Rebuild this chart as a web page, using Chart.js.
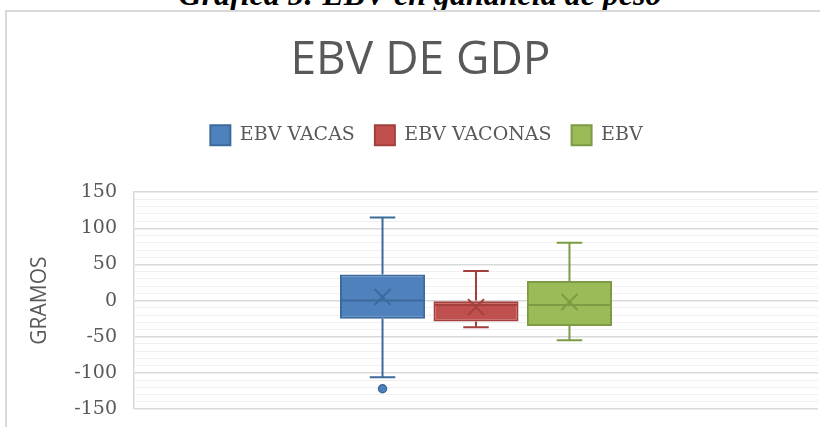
<!DOCTYPE html>
<html>
<head>
<meta charset="utf-8">
<script src="https://cdn.jsdelivr.net/npm/chart.js@4.4.1/dist/chart.umd.min.js"></script>
<style>
  html, body { margin: 0; padding: 0; background: #fff; overflow: hidden; }
  #caption {
    position: absolute; left: 10px; top: -22px; width: 820px;
    text-align: center; font: italic bold 32px/32px "Liberation Serif", serif; color: #000;
    white-space: nowrap;
  }
  #frame {
    position: absolute; left: 5px; top: 10px; width: 900px; height: 500px;
    border: 2px solid #d9d9d9; box-sizing: border-box;
  }
  #grafico { position: absolute; left: 0; top: 0; }
</style>
</head>
<body>
<div id="caption">Gráfica 5: EBV en ganancia de peso</div>
<div id="frame"></div>
<canvas id="grafico" width="820" height="427"></canvas>
<script>
// ============================
// DADOS
// ============================
const categorias = [''];
const series = ['EBV VACAS', 'EBV VACONAS', 'EBV'];
const minimos = [-106, -37, -55];
const q1 = [-25, -29, -35];
const medianas = [0, -6, -6];
const q3 = [36, 0, 27];
const maximos = [115, 41, 80];
const medias = [5, -9, -2];
const atipicos = [[-122], [], []];
const ticksY = [-150, -100, -50, 0, 50, 100, 150];

// cores
const preenchimento = ['#4F81BD', '#C0504D', '#9BBB59'];
const contorno = ['#3D6A9C', '#A33F3C', '#7D9A44'];

// ============================
// PLUGIN: bigodes, mediana, média e pontos atípicos
// ============================
const caixaExtras = {
  id: 'caixaExtras',
  afterDatasetsDraw(chart) {
    const ctx = chart.ctx;
    const y = chart.scales.y;
    chart.data.datasets.forEach((ds, i) => {
      const bar = chart.getDatasetMeta(i).data[0];
      if (!bar) return;
      const x = bar.x, w = bar.width;
      const cap = w * 0.15;
      ctx.save();
      ctx.strokeStyle = contorno[i];
      ctx.lineWidth = 2;
      ctx.beginPath();
      // bigode superior
      ctx.moveTo(x, y.getPixelForValue(q3[i]));
      ctx.lineTo(x, y.getPixelForValue(maximos[i]));
      ctx.moveTo(x - cap, y.getPixelForValue(maximos[i]));
      ctx.lineTo(x + cap, y.getPixelForValue(maximos[i]));
      // bigode inferior
      ctx.moveTo(x, y.getPixelForValue(q1[i]));
      ctx.lineTo(x, y.getPixelForValue(minimos[i]));
      ctx.moveTo(x - cap, y.getPixelForValue(minimos[i]));
      ctx.lineTo(x + cap, y.getPixelForValue(minimos[i]));
      // mediana
      ctx.moveTo(x - w / 2 + 1, y.getPixelForValue(medianas[i]));
      ctx.lineTo(x + w / 2 - 1, y.getPixelForValue(medianas[i]));
      // média (X)
      const ym = y.getPixelForValue(medias[i]);
      const s = 8;
      ctx.moveTo(x - s, ym - s); ctx.lineTo(x + s, ym + s);
      ctx.moveTo(x - s, ym + s); ctx.lineTo(x + s, ym - s);
      ctx.stroke();
      // atípicos
      atipicos[i].forEach(v => {
        ctx.beginPath();
        ctx.arc(x, y.getPixelForValue(v), 4, 0, Math.PI * 2);
        ctx.fillStyle = preenchimento[i];
        ctx.fill();
        ctx.lineWidth = 1.5;
        ctx.stroke();
      });
      ctx.restore();
    });
  }
};

// espaço extra abaixo da legenda (e legenda um pouco à direita)
const margemLegenda = {
  id: 'margemLegenda',
  beforeInit(chart) {
    const fitOriginal = chart.legend.fit;
    chart.legend.fit = function () {
      fitOriginal.bind(chart.legend)();
      this.height += 37;
      this.lineWidths = this.lineWidths.map(w => w - 12);
    };
  }
};

new Chart(document.getElementById('grafico'), {
  type: 'bar',
  data: {
    labels: categorias,
    datasets: series.map((nome, i) => ({
      label: nome,
      data: [[q1[i], q3[i]]],
      backgroundColor: preenchimento[i],
      borderColor: contorno[i],
      borderWidth: 2,
      borderSkipped: false,
      categoryPercentage: 0.41,
      barPercentage: 0.91
    }))
  },
  options: {
    responsive: false,
    animation: false,
    devicePixelRatio: 1,
    layout: { padding: { top: 4, left: 23, right: 2, bottom: 18 } },
    plugins: {
      tooltip: { enabled: false },
      title: {
        display: true,
        text: 'EBV DE GDP',
        color: '#595959',
        font: { family: 'Open Sans', size: 46, weight: 'normal' },
        padding: { top: 29, bottom: 17 }
      },
      legend: {
        display: true,
        labels: {
          color: '#595959',
          font: { family: 'DejaVu Serif', size: 19 },
          boxWidth: 20,
          boxHeight: 20,
          padding: 20
        }
      }
    },
    scales: {
      x: { display: false },
      y: {
        min: -150,
        max: 150,
        afterFit(s) {
          s.width = 111;
          s.paddingTop = 0;
          s.paddingBottom = 0;
        },
        title: {
          display: true,
          text: 'GRAMOS',
          color: '#595959',
          font: { family: 'Open Sans', size: 21 }
        },
        ticks: {
          stepSize: 10,
          autoSkip: false,
          padding: 17,
          color: '#595959',
          font: { family: 'DejaVu Serif', size: 19 },
          callback: v => ticksY.includes(v) ? v : ''
        },
        grid: {
          drawTicks: false,
          color: c => ticksY.includes(c.tick.value) ? '#d9d9d9' : '#f0f0f0',
          lineWidth: c => ticksY.includes(c.tick.value) ? 1.5 : 1
        },
        border: { display: true, color: '#d9d9d9', width: 1.5 }
      }
    }
  },
  plugins: [caixaExtras, margemLegenda]
});
</script>
</body>
</html>
